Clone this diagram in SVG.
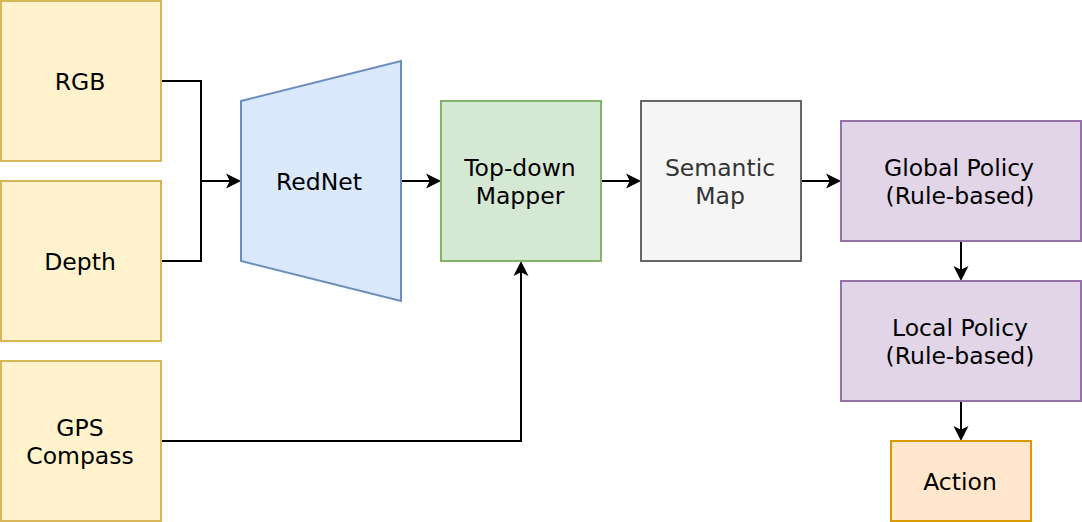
<svg xmlns="http://www.w3.org/2000/svg" width="1082" height="522" viewBox="0 0 1082 522">
<style>
text{font-family:"DejaVu Sans","Liberation Sans",sans-serif;font-size:23.5px;text-anchor:middle;fill:#000}
.y{fill:#fff2cc;stroke:#d6b656;stroke-width:2}
.b{fill:#dae8fc;stroke:#6c8ebf;stroke-width:2}
.g{fill:#d5e8d4;stroke:#82b366;stroke-width:2}
.s{fill:#f5f5f5;stroke:#666666;stroke-width:2}
.p{fill:#e1d5e7;stroke:#9673a6;stroke-width:2}
.o{fill:#ffe6cc;stroke:#d79b00;stroke-width:2}
.e{fill:none;stroke:#000;stroke-width:2}
</style>
<defs>
<marker id="arr" markerUnits="userSpaceOnUse" markerWidth="16" markerHeight="16" refX="5" refY="7.5" orient="auto" overflow="visible">
<path d="M0,0 L15,7.5 L0,15 L3.75,7.5 Z" fill="#000"/>
</marker>
</defs>
<g id="connectors">
<path class="e" d="M161,81 H201 V181 H231" marker-end="url(#arr)"/>
<path class="e" d="M161,261 H201 V181"/>
<path class="e" d="M401,181 H431" marker-end="url(#arr)"/>
<path class="e" d="M161,441 H521 V271" marker-end="url(#arr)"/>
<path class="e" d="M601,181 H631" marker-end="url(#arr)"/>
<path class="e" d="M801,181 H831" marker-end="url(#arr)"/>
<path class="e" d="M961,241 V271" marker-end="url(#arr)"/>
<path class="e" d="M961,401 V431" marker-end="url(#arr)"/>
</g>
<g id="rgb"><rect class="y" x="1" y="1" width="160" height="160"/><text x="80" y="89.5">RGB</text></g>
<g id="depth"><rect class="y" x="1" y="181" width="160" height="160"/><text x="80" y="269.5">Depth</text></g>
<g id="gps"><rect class="y" x="1" y="361" width="160" height="160"/><text x="80" y="435.5">GPS</text><text x="80" y="463.5">Compass</text></g>
<g id="rednet"><polygon class="b" points="241,101 401,61 401,301 241,261"/><text x="319" y="189.5">RedNet</text></g>
<g id="mapper"><rect class="g" x="441" y="101" width="160" height="160"/><text x="520" y="175.5">Top-down</text><text x="520" y="203.5">Mapper</text></g>
<g id="semantic"><rect class="s" x="641" y="101" width="160" height="160"/><text x="720" y="175.5" style="fill:#333333">Semantic</text><text x="720" y="203.5" style="fill:#333333">Map</text></g>
<g id="global"><rect class="p" x="841" y="121" width="240" height="120"/><text x="959" y="175.5">Global Policy</text><text x="960" y="203.5">(Rule-based)</text></g>
<g id="local"><rect class="p" x="841" y="281" width="240" height="120"/><text x="960" y="335.5">Local Policy</text><text x="960" y="363.5">(Rule-based)</text></g>
<g id="action"><rect class="o" x="891" y="441" width="140" height="80"/><text x="960" y="489.5">Action</text></g>
</svg>
